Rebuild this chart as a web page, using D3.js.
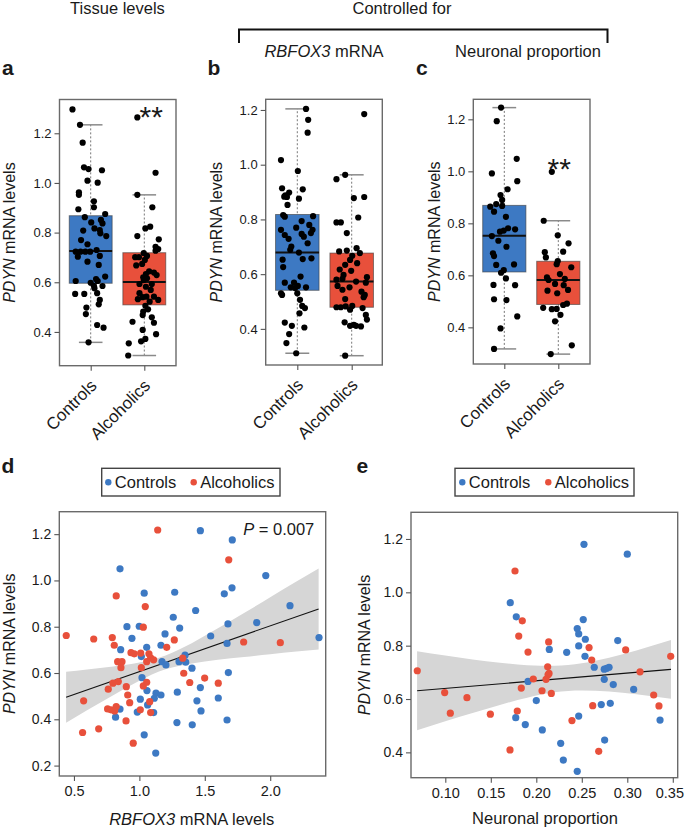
<!DOCTYPE html>
<html><head><meta charset="utf-8">
<script src="https://cdn.jsdelivr.net/npm/d3@7/dist/d3.min.js"></script>
<style>body{margin:0;background:#fff} text{font-family:"Liberation Sans",Arial,Helvetica,sans-serif;fill:#1a1a1a}</style>
</head><body><svg id="chart" width="685" height="829"></svg>
<script>
// ---------------- DATA ----------------
const groups = ["Controls", "Alcoholics"];
const boxYTicks = [0.4, 0.6, 0.8, 1.0, 1.2];
const dYTicks = [0.2, 0.4, 0.6, 0.8, 1.0, 1.2];
const dXTicks = [0.5, 1.0, 1.5, 2.0];
const eYTicks = [0.4, 0.6, 0.8, 1.0, 1.2];
const eXTicks = [0.10, 0.15, 0.20, 0.25, 0.30, 0.35];

// box stats: [lower whisker, Q1, median, Q3, upper whisker]
const aBoxControls = [0.358, 0.596, 0.726, 0.868, 1.234];
const aBoxAlcoholics = [0.305, 0.509, 0.601, 0.719, 0.952];
const bBoxControls = [0.311, 0.541, 0.679, 0.818, 1.204];
const bBoxAlcoholics = [0.302, 0.479, 0.573, 0.677, 0.963];
const cBoxControls = [0.317, 0.613, 0.752, 0.869, 1.245];
const cBoxAlcoholics = [0.297, 0.488, 0.582, 0.654, 0.810];

// jittered points: [group position (1 = Controls, 2 = Alcoholics), PDYN level]
const aControls = [[0.66,1.296],[0.80,1.234],[0.85,1.162],[0.875,1.063],[0.96,1.056],[1.21,1.051],[0.94,1.009],[1.13,1.001],[0.78,0.962],[0.78,0.952],[1.06,0.926],[1.06,0.902],[0.77,0.894],[0.89,0.862],[1.27,0.875],[1.19,0.851],[1.01,0.841],[1.22,0.837],[1.07,0.817],[0.86,0.808],[1.17,0.810],[1.18,0.797],[1.29,0.786],[0.82,0.770],[0.94,0.753],[0.72,0.723],[0.81,0.723],[0.90,0.723],[0.99,0.723],[1.11,0.730],[0.76,0.703],[1.17,0.706],[0.94,0.683],[1.15,0.670],[1.27,0.623],[1.10,0.613],[1.13,0.605],[1.00,0.598],[0.72,0.605],[1.06,0.586],[1.22,0.585],[1.07,0.576],[0.71,0.553],[0.88,0.553],[1.12,0.556],[1.17,0.529],[1.15,0.511],[0.92,0.498],[0.91,0.472],[1.12,0.428],[1.24,0.417],[0.96,0.358]];
const aAlcoholics = [[1.87,1.264],[2.21,1.041],[1.87,0.952],[2.15,0.902],[2.02,0.817],[2.11,0.824],[1.87,0.786],[2.27,0.773],[2.21,0.743],[2.26,0.734],[2.21,0.727],[1.99,0.717],[1.83,0.701],[1.90,0.701],[2.05,0.706],[2.01,0.690],[1.96,0.674],[1.85,0.668],[2.09,0.644],[2.18,0.639],[2.03,0.633],[1.98,0.620],[2.23,0.629],[1.99,0.609],[2.05,0.616],[1.91,0.593],[2.03,0.582],[2.14,0.593],[2.12,0.569],[1.91,0.556],[1.97,0.540],[1.88,0.532],[2.04,0.542],[2.18,0.542],[2.26,0.529],[2.10,0.522],[2.02,0.505],[2.07,0.491],[1.98,0.482],[1.97,0.468],[2.14,0.459],[1.78,0.441],[2.18,0.437],[1.97,0.408],[2.22,0.391],[2.02,0.372],[1.94,0.362],[1.71,0.354],[1.70,0.305]];
const bControls = [[1.16,1.204],[1.20,1.164],[1.19,1.117],[0.70,1.017],[1.01,0.977],[0.72,0.914],[1.10,0.910],[0.76,0.883],[0.85,0.898],[0.78,0.888],[0.81,0.882],[1.03,0.876],[0.82,0.853],[0.74,0.816],[0.77,0.810],[1.29,0.812],[1.08,0.794],[0.98,0.770],[0.70,0.762],[1.22,0.780],[1.28,0.762],[1.08,0.747],[1.25,0.750],[1.12,0.737],[0.77,0.743],[0.84,0.729],[1.19,0.713],[0.89,0.701],[0.87,0.689],[1.03,0.679],[1.10,0.655],[1.26,0.658],[0.73,0.653],[0.74,0.626],[1.06,0.591],[0.77,0.569],[0.94,0.569],[1.01,0.557],[1.16,0.552],[0.96,0.549],[0.88,0.552],[0.70,0.530],[0.72,0.524],[1.00,0.530],[1.05,0.506],[1.09,0.484],[1.14,0.476],[1.04,0.457],[0.77,0.423],[0.90,0.411],[1.13,0.405],[0.85,0.381],[0.80,0.348],[0.98,0.311]];
const bAlcoholics = [[2.23,1.185],[1.72,0.947],[1.88,0.963],[2.04,0.878],[2.23,0.882],[2.12,0.807],[1.72,0.789],[1.80,0.789],[1.91,0.750],[2.09,0.695],[1.77,0.683],[1.91,0.686],[2.15,0.677],[2.01,0.667],[1.97,0.652],[1.88,0.634],[2.10,0.640],[1.78,0.617],[1.99,0.612],[1.85,0.597],[2.28,0.589],[1.72,0.580],[1.83,0.583],[2.08,0.573],[2.26,0.569],[1.96,0.552],[1.74,0.557],[2.18,0.536],[1.83,0.543],[2.24,0.524],[1.88,0.509],[2.22,0.516],[1.72,0.479],[1.80,0.479],[1.89,0.482],[2.01,0.484],[2.20,0.476],[1.97,0.470],[2.26,0.451],[2.28,0.434],[1.87,0.424],[2.04,0.415],[1.97,0.411],[2.08,0.411],[2.17,0.409],[1.88,0.302]];
const cControls = [[0.94,1.245],[0.86,1.193],[1.23,1.048],[0.77,0.992],[1.24,0.962],[1.06,0.931],[0.93,0.909],[0.96,0.890],[0.85,0.874],[0.74,0.864],[0.96,0.867],[0.81,0.845],[1.03,0.825],[1.07,0.781],[1.20,0.777],[0.99,0.772],[0.92,0.768],[0.77,0.751],[0.89,0.733],[1.04,0.710],[0.79,0.685],[0.81,0.674],[0.85,0.640],[1.18,0.642],[0.99,0.620],[0.94,0.610],[1.03,0.588],[0.80,0.563],[1.20,0.562],[0.81,0.508],[1.04,0.505],[1.24,0.442],[0.93,0.396],[0.81,0.317]];
const cAlcoholics = [[1.88,0.998],[1.73,0.810],[1.99,0.754],[2.19,0.723],[2.09,0.691],[1.75,0.689],[1.77,0.669],[1.99,0.655],[1.97,0.643],[2.24,0.631],[2.03,0.605],[1.79,0.592],[2.12,0.586],[1.82,0.582],[1.94,0.567],[2.10,0.562],[1.80,0.541],[2.18,0.544],[1.98,0.531],[2.16,0.491],[2.09,0.486],[1.72,0.475],[1.88,0.470],[1.97,0.471],[2.04,0.448],[1.94,0.423],[2.25,0.331],[1.86,0.297]];

// scatter d: [RBFOX3 mRNA, PDYN mRNA]
const dControls = [[1.466,1.215],[1.710,1.175],[0.852,1.050],[1.966,1.021],[1.037,0.945],[1.270,0.949],[1.649,0.942],[1.708,0.968],[2.151,0.891],[1.430,0.870],[1.259,0.841],[0.905,0.800],[0.999,0.802],[1.308,0.794],[1.677,0.812],[1.897,0.818],[1.196,0.769],[0.943,0.750],[1.545,0.760],[2.373,0.753],[1.670,0.728],[0.857,0.701],[1.056,0.711],[1.165,0.720],[1.015,0.671],[1.173,0.649],[1.203,0.635],[1.349,0.677],[1.303,0.649],[1.354,0.647],[1.402,0.621],[1.680,0.602],[1.020,0.580],[1.058,0.524],[1.466,0.537],[1.290,0.517],[1.127,0.513],[1.165,0.505],[1.114,0.491],[1.007,0.487],[1.440,0.480],[1.603,0.492],[1.063,0.462],[0.852,0.444],[0.984,0.431],[1.109,0.429],[1.471,0.436],[0.818,0.409],[1.287,0.386],[1.404,0.376],[1.670,0.397],[1.037,0.333],[1.125,0.254]];
const dAlcoholics = [[1.140,1.218],[1.683,1.089],[0.823,0.933],[1.045,0.887],[1.030,0.798],[0.441,0.762],[0.651,0.747],[0.793,0.753],[1.267,0.743],[1.797,0.734],[2.077,0.731],[0.808,0.720],[1.209,0.711],[0.936,0.688],[0.961,0.683],[1.010,0.686],[1.073,0.683],[1.086,0.665],[1.056,0.649],[1.109,0.657],[1.331,0.664],[0.834,0.649],[0.867,0.649],[0.859,0.623],[1.015,0.623],[1.339,0.599],[1.499,0.578],[0.839,0.563],[1.056,0.560],[1.385,0.559],[1.603,0.556],[0.798,0.556],[0.900,0.541],[1.030,0.544],[0.762,0.530],[0.911,0.505],[0.574,0.480],[1.079,0.476],[0.926,0.472],[0.823,0.455],[0.757,0.445],[0.783,0.441],[0.811,0.436],[1.007,0.441],[1.086,0.429],[0.898,0.393],[0.689,0.359],[0.566,0.343],[0.953,0.297]];
const dLine = [[0.44,0.495],[2.37,0.877]];
const dBandX = [0.44,0.6,0.8,1.0,1.2,1.4,1.6,1.8,2.0,2.2,2.37];
const dBandLow = [0.385,0.439,0.504,0.567,0.616,0.641,0.657,0.669,0.681,0.693,0.702];
const dBandHigh = [0.605,0.615,0.628,0.645,0.676,0.729,0.793,0.859,0.927,0.995,1.052];

// scatter e: [neuronal proportion, PDYN mRNA]
const eControls = [[0.2524,1.180],[0.300,1.143],[0.1714,0.961],[0.178,0.908],[0.2516,0.898],[0.245,0.864],[0.2466,0.844],[0.2539,0.824],[0.2895,0.819],[0.2466,0.799],[0.2143,0.786],[0.2334,0.775],[0.2535,0.760],[0.2637,0.719],[0.2747,0.712],[0.2774,0.715],[0.280,0.719],[0.1909,0.666],[0.2747,0.674],[0.2846,0.654],[0.307,0.636],[0.200,0.594],[0.2714,0.579],[0.2813,0.584],[0.2466,0.536],[0.1774,0.530],[0.336,0.521],[0.1879,0.504],[0.2066,0.484],[0.2268,0.434],[0.2751,0.446],[0.2297,0.371],[0.245,0.329]];
const eAlcoholics = [[0.1766,1.080],[0.1846,0.893],[0.1807,0.836],[0.2136,0.814],[0.258,0.793],[0.1909,0.776],[0.2982,0.784],[0.2609,0.746],[0.3477,0.760],[0.0692,0.706],[0.2125,0.721],[0.2129,0.691],[0.214,0.696],[0.314,0.702],[0.1967,0.675],[0.2107,0.674],[0.0993,0.624],[0.2063,0.631],[0.1835,0.641],[0.2165,0.621],[0.1238,0.605],[0.329,0.615],[0.3348,0.574],[0.262,0.575],[0.1055,0.547],[0.1495,0.543],[0.1791,0.555],[0.2392,0.519],[0.1711,0.409],[0.2686,0.404]];
const eLine = [[0.069,0.631],[0.348,0.711]];
const eBandX = [0.069,0.10,0.13,0.16,0.19,0.22,0.25,0.28,0.31,0.348];
const eBandLow = [0.483,0.517,0.548,0.578,0.605,0.625,0.632,0.628,0.618,0.601];
const eBandHigh = [0.779,0.763,0.748,0.736,0.727,0.725,0.734,0.755,0.782,0.821];

// ---------------- DRAWING ----------------
const BLUE = "#3d79c3", RED = "#e8503b", FRAME = "#6a6a6a", TICK = "#555";
const svg = d3.select("#chart");
const fmt1 = d3.format(".1f"), fmt2 = d3.format(".2f");

function yLabel(x, y) {
  const t = svg.append("text").attr("transform", `translate(${x},${y}) rotate(-90)`)
    .attr("text-anchor", "middle").style("font-size", "16px");
  t.append("tspan").style("font-style", "italic").text("PDYN");
  t.append("tspan").text(" mRNA levels");
}
function styleAxis(g, fs) {
  g.select(".domain").remove();
  g.selectAll(".tick line").attr("stroke", TICK).attr("stroke-width", 1.1);
  g.selectAll(".tick text").style("font-size", fs + "px").attr("fill", "#1a1a1a")
    .style("font-family", '"Liberation Sans",Arial,sans-serif');
}

function boxPanel(cfg, boxes, pts) {
  const y = d3.scaleLinear().domain(cfg.yDomain).range([cfg.bottom, cfg.top]);
  const x = d3.scaleLinear().domain([1, 2]).range(cfg.centers);
  const g = svg.append("g");
  const colors = [BLUE, RED];
  boxes.forEach((b, i) => {
    const p = i + 1;
    g.append("line").attr("x1", x(p)).attr("x2", x(p)).attr("y1", y(b[0])).attr("y2", y(b[4]))
      .attr("stroke", "#777").attr("stroke-dasharray", "2,2").attr("stroke-width", 1);
    [b[0], b[4]].forEach(v => g.append("line").attr("x1", x(p - 0.22)).attr("x2", x(p + 0.22))
      .attr("y1", y(v)).attr("y2", y(v)).attr("stroke", "#8a8a8a").attr("stroke-width", 1.5));
    g.append("rect").attr("x", x(p - 0.4)).attr("width", x(p + 0.4) - x(p - 0.4))
      .attr("y", y(b[3])).attr("height", y(b[1]) - y(b[3]))
      .attr("fill", colors[i]).attr("stroke", "#3a3a3a").attr("stroke-opacity", 0.6).attr("stroke-width", 1);
    g.append("line").attr("x1", x(p - 0.4)).attr("x2", x(p + 0.4)).attr("y1", y(b[2])).attr("y2", y(b[2]))
      .attr("stroke", "#111").attr("stroke-width", 2);
  });
  pts.forEach(arr => g.selectAll(null).data(arr).join("circle")
    .attr("cx", d => x(d[0])).attr("cy", d => y(d[1])).attr("r", 3.1).attr("fill", "#000"));
  g.append("rect").attr("x", cfg.left).attr("y", cfg.top).attr("width", cfg.right - cfg.left)
    .attr("height", cfg.bottom - cfg.top).attr("fill", "none").attr("stroke", FRAME).attr("stroke-width", 1.4);
  const ya = g.append("g").attr("transform", `translate(${cfg.left},0)`)
    .call(d3.axisLeft(y).tickValues(boxYTicks).tickFormat(fmt1).tickSize(5).tickPadding(3));
  styleAxis(ya, 13);
  const xa = g.append("g").attr("transform", `translate(0,${cfg.bottom})`)
    .call(d3.axisBottom(x).tickValues([1, 2]).tickFormat("").tickSize(5));
  styleAxis(xa, 13);
  groups.forEach((name, i) => {
    g.append("text").attr("transform", `translate(${x(i + 1) + 7},${cfg.bottom + 21}) rotate(-45)`)
      .attr("text-anchor", "end").style("font-size", "17px").text(name);
  });
  yLabel(cfg.labelX, (cfg.top + cfg.bottom) / 2);
  svg.append("text").attr("x", cfg.letterX).attr("y", 75).style("font-size", "21px")
    .style("font-weight", "bold").text(cfg.letter);
}

boxPanel({left: 59.5, top: 99.5, right: 176, bottom: 365.7, yDomain: [0.264, 1.336], centers: [90.7, 144.3], labelX: 15, letter: "a", letterX: 2},
  [aBoxControls, aBoxAlcoholics], [aControls, aAlcoholics]);
boxPanel({left: 265.7, top: 99.3, right: 382.3, bottom: 365, yDomain: [0.268, 1.239], centers: [297.3, 351.7], labelX: 221.5, letter: "b", letterX: 207.5},
  [bBoxControls, bBoxAlcoholics], [bControls, bAlcoholics]);
boxPanel({left: 473.3, top: 99.3, right: 590, bottom: 364, yDomain: [0.259, 1.277], centers: [504.3, 558.3], labelX: 440, letter: "c", letterX: 416},
  [cBoxControls, cBoxAlcoholics], [cControls, cAlcoholics]);

// significance stars
svg.append("text").attr("x", 151.3).attr("y", 127).attr("text-anchor", "middle").style("font-size", "30px").text("**");
svg.append("text").attr("x", 559.2).attr("y", 179).attr("text-anchor", "middle").style("font-size", "30px").text("**");

// headers
svg.append("text").attr("x", 117.5).attr("y", 13.5).attr("text-anchor", "middle").style("font-size", "16.5px").text("Tissue levels");
svg.append("text").attr("x", 402).attr("y", 13.5).attr("text-anchor", "middle").style("font-size", "16.5px").text("Controlled for");
svg.append("path").attr("d", "M239,43 V29.5 H607.5 V43").attr("fill", "none").attr("stroke", "#111").attr("stroke-width", 2);
const rb = svg.append("text").attr("x", 324).attr("y", 56.5).attr("text-anchor", "middle").style("font-size", "16.5px");
rb.append("tspan").style("font-style", "italic").text("RBFOX3");
rb.append("tspan").text(" mRNA");
svg.append("text").attr("x", 528).attr("y", 56.5).attr("text-anchor", "middle").style("font-size", "16.5px").text("Neuronal proportion");

function scatterPanel(cfg, ctrl, alc, line, bx, blo, bhi) {
  const x = d3.scaleLinear().domain(cfg.xDomain).range([cfg.left, cfg.right]);
  const y = d3.scaleLinear().domain(cfg.yDomain).range([cfg.bottom, cfg.top]);
  const g = svg.append("g");
  const band = bx.map((v, i) => [v, blo[i], bhi[i]]);
  g.append("path").datum(band).attr("fill", "#d6d6d6")
    .attr("d", d3.area().x(d => x(d[0])).y0(d => y(d[1])).y1(d => y(d[2])).curve(d3.curveMonotoneX));
  g.append("path").datum(line).attr("fill", "none").attr("stroke", "#111").attr("stroke-width", 1.1)
    .attr("d", d3.line().x(d => x(d[0])).y(d => y(d[1])));
  g.selectAll(null).data(ctrl).join("circle").attr("cx", d => x(d[0])).attr("cy", d => y(d[1])).attr("r", 3.6).attr("fill", BLUE);
  g.selectAll(null).data(alc).join("circle").attr("cx", d => x(d[0])).attr("cy", d => y(d[1])).attr("r", 3.6).attr("fill", RED);
  g.append("rect").attr("x", cfg.left).attr("y", cfg.top).attr("width", cfg.right - cfg.left)
    .attr("height", cfg.bottom - cfg.top).attr("fill", "none").attr("stroke", FRAME).attr("stroke-width", 1.4);
  const ya = g.append("g").attr("transform", `translate(${cfg.left},0)`)
    .call(d3.axisLeft(y).tickValues(cfg.yTicks).tickFormat(fmt1).tickSize(5).tickPadding(3));
  styleAxis(ya, 14);
  const xa = g.append("g").attr("transform", `translate(0,${cfg.bottom})`)
    .call(d3.axisBottom(x).tickValues(cfg.xTicks).tickFormat(cfg.xFmt).tickSize(5).tickPadding(5));
  styleAxis(xa, 14.5);
  // keep the right-most tick label inside the page
  xa.selectAll(".tick text").each(function () {
    const bb = this.getBBox(), m = this.getCTM();
    const right = m.e + bb.x + bb.width;
    if (right > 684) d3.select(this).attr("dx", (684 - right) + "px");
  });
  yLabel(cfg.labelX, (cfg.top + cfg.bottom) / 2);
  // legend
  const L = cfg.legend;
  g.append("rect").attr("x", L.x0).attr("y", 468.3).attr("width", L.x1 - L.x0).attr("height", 27.7)
    .attr("fill", "#fff").attr("stroke", "#444").attr("stroke-width", 1.4);
  [[BLUE, groups[0], L.d1], [RED, groups[1], L.d2]].forEach(([c, n, dx]) => {
    g.append("circle").attr("cx", dx).attr("cy", 482.3).attr("r", 3.2).attr("fill", c);
    g.append("text").attr("x", dx + 6.5).attr("y", 488).style("font-size", "16.5px").text(n);
  });
  svg.append("text").attr("x", cfg.letterX).attr("y", 472.7).style("font-size", "21px")
    .style("font-weight", "bold").text(cfg.letter);
  return g;
}

scatterPanel({left: 59.3, top: 511.7, right: 325.7, bottom: 776, xDomain: [0.388, 2.424], yDomain: [0.155, 1.297],
  yTicks: dYTicks, xTicks: dXTicks, xFmt: fmt1, labelX: 15, letter: "d", letterX: 1.5,
  legend: {x0: 101.7, x1: 280, d1: 108.3, d2: 193.7}}, dControls, dAlcoholics, dLine, dBandX, dBandLow, dBandHigh);
const pt = svg.append("text").attr("x", 314.3).attr("y", 535).attr("text-anchor", "end").style("font-size", "16.5px");
pt.append("tspan").style("font-style", "italic").text("P");
pt.append("tspan").text(" = 0.007");
const dx = svg.append("text").attr("x", 191.7).attr("y", 825).attr("text-anchor", "middle").style("font-size", "16.5px");
dx.append("tspan").style("font-style", "italic").text("RBFOX3");
dx.append("tspan").text(" mRNA levels");

scatterPanel({left: 411, top: 512.3, right: 677.7, bottom: 777.7, xDomain: [0.0623, 0.3554], yDomain: [0.305, 1.30],
  yTicks: eYTicks, xTicks: eXTicks, xFmt: fmt2, labelX: 370, letter: "e", letterX: 356.5,
  legend: {x0: 455, x1: 634, d1: 462.3, d2: 548.3}}, eControls, eAlcoholics, eLine, eBandX, eBandLow, eBandHigh);
svg.append("text").attr("x", 545).attr("y", 824).attr("text-anchor", "middle").style("font-size", "16.5px").text("Neuronal proportion");
</script></body></html>
